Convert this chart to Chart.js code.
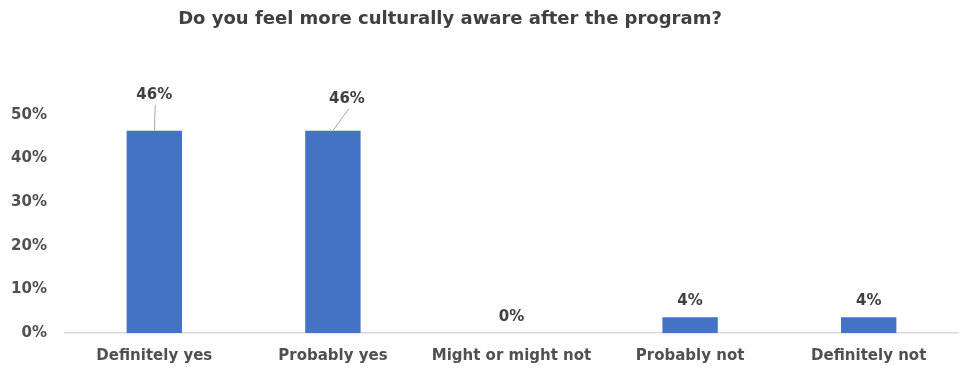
<!DOCTYPE html>
<html>
<head>
<meta charset="utf-8">
<script src="https://cdn.jsdelivr.net/npm/chart.js@4"></script>
<style>
  html, body { margin: 0; padding: 0; background: #ffffff; }
  #wrap { width: 961px; height: 372px; position: relative; }
</style>
</head>
<body>
<div id="wrap"><canvas id="c"></canvas></div>
<script>
const chartTitle = "Do you feel more culturally aware after the program?";
const categories = ["Definitely yes", "Probably yes", "Might or might not", "Probably not", "Definitely not"];
const values = [46.4, 46.4, 0, 3.6, 3.6];
const valueLabels = ["46%", "46%", "0%", "4%", "4%"];
const yTicks = [0, 10, 20, 30, 40, 50];

const FONT = "'DejaVu Sans', sans-serif";
const TEXT = "#404040";
const AXIS_TEXT = "#505050";

// label displacement (px) for labels that were dragged away from their bars
const labelShift = [
  {dx: 0, dy: -20, leader: true},
  {dx: 14, dy: -16, leader: true},
  null, null, null
];

const titlePlugin = {
  id: 'customTitle',
  afterDraw(chart) {
    const ctx = chart.ctx;
    ctx.save();
    ctx.font = "bold 18px " + FONT;
    ctx.fillStyle = TEXT;
    ctx.textAlign = "center";
    ctx.textBaseline = "middle";
    ctx.fillText(chartTitle, 450, 19);
    ctx.restore();
  }
};

const labelPlugin = {
  id: 'valueLabels',
  afterDatasetsDraw(chart) {
    const ctx = chart.ctx;
    const meta = chart.getDatasetMeta(0);
    ctx.save();
    ctx.font = "bold 15px " + FONT;
    ctx.fillStyle = TEXT;
    ctx.textAlign = "center";
    ctx.textBaseline = "middle";
    meta.data.forEach((bar, i) => {
      const shift = labelShift[i];
      let x = bar.x, y = bar.y - 16;
      if (shift) {
        x = bar.x + shift.dx;
        y = bar.y - 16 + shift.dy;
        if (shift.leader) {
          ctx.strokeStyle = "#a6a6a6";
          ctx.lineWidth = 1;
          ctx.beginPath();
          ctx.moveTo(bar.x, bar.y);
          ctx.lineTo(x + (shift.dx ? 2 : 1), y + 10);
          ctx.stroke();
        }
      }
      ctx.fillText(valueLabels[i], x, y);
    });
    ctx.restore();
  }
};

new Chart(document.getElementById('c'), {
  type: 'bar',
  data: {
    labels: categories,
    datasets: [{
      data: values,
      backgroundColor: "#4472C4",
      borderWidth: 0,
      barPercentage: 0.31,
      categoryPercentage: 1.0
    }]
  },
  options: {
    responsive: true,
    maintainAspectRatio: false,
    animation: false,
    layout: { padding: { top: 115, right: 3, left: 0, bottom: 0 } },
    plugins: {
      legend: { display: false },
      title: { display: false },
      tooltip: { enabled: false }
    },
    scales: {
      x: {
        grid: { display: false, drawTicks: false },
        border: { display: true, color: "#d9d9d9", width: 1.5 },
        ticks: {
          color: AXIS_TEXT,
          font: { family: FONT, size: 15, weight: 'bold' },
          padding: 14,
          maxRotation: 0
        },
        afterFit(scale) { scale.height = 39; }
      },
      y: {
        min: 0,
        max: 50,
        afterBuildTicks(scale) { scale.ticks = yTicks.map(v => ({ value: v })); },
        grid: { display: false, drawTicks: false },
        border: { display: false },
        ticks: {
          color: AXIS_TEXT,
          font: { family: FONT, size: 15, weight: 'bold' },
          padding: 18,
          callback: v => v + "%"
        },
        afterFit(scale) { scale.width = 65; }
      }
    }
  },
  plugins: [titlePlugin, labelPlugin]
});
</script>
</body>
</html>
